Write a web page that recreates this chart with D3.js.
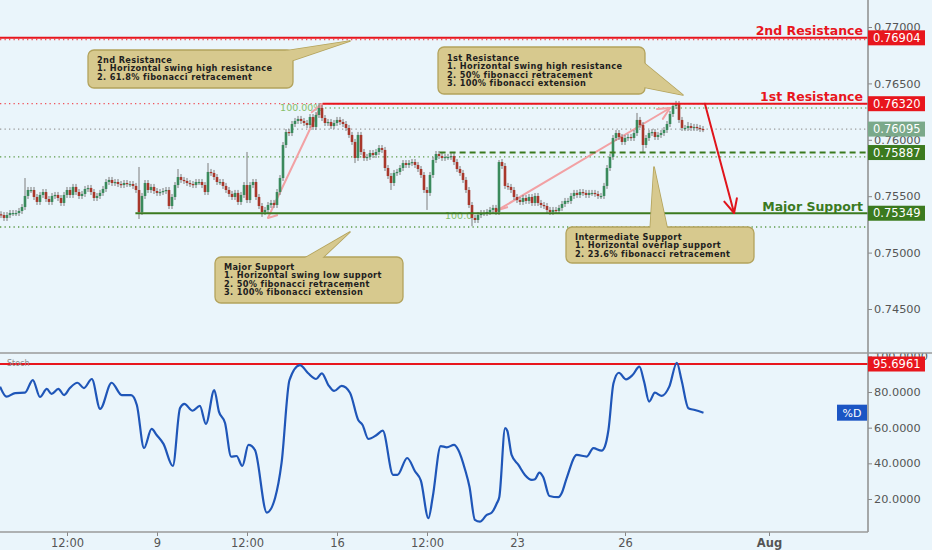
<!DOCTYPE html>
<html><head><meta charset="utf-8">
<script src="https://cdn.jsdelivr.net/npm/d3@7"></script>
<style>html,body{margin:0;padding:0;background:#eaf5fb;} svg{display:block}</style>
</head><body><svg id="c" width="932" height="550"></svg>
<script>
// ---------------- DATA ----------------
const closes = [
0.75333,0.75307,0.75333,0.75351,0.75351,0.75351,0.75369,0.75404,0.75502,0.75555,
0.75555,0.75493,0.75449,0.75511,0.75537,0.75475,0.75449,0.75502,0.75511,0.75484,
0.75440,0.75511,0.75555,0.75511,0.75582,0.75537,0.75502,0.75520,0.75564,0.75573,
0.75537,0.75484,0.75502,0.75529,0.75564,0.75626,0.75644,0.75617,0.75626,0.75608,
0.75599,0.75617,0.75608,0.75608,0.75591,0.75555,0.75360,0.75502,0.75617,0.75555,
0.75582,0.75546,0.75529,0.75537,0.75546,0.75555,0.75413,0.75493,0.75599,0.75670,
0.75644,0.75635,0.75617,0.75608,0.75599,0.75626,0.75626,0.75599,0.75537,0.75715,
0.75706,0.75670,0.75626,0.75626,0.75591,0.75555,0.75520,0.75493,0.75529,0.75449,
0.75511,0.75599,0.75466,0.75599,0.75626,0.75493,0.75413,0.75360,0.75378,0.75422,
0.75440,0.75422,0.75537,0.75661,0.75954,0.76069,0.76060,0.76140,0.76167,0.76185,
0.76167,0.76149,0.76131,0.76202,0.76114,0.76220,0.76282,0.76193,0.76149,0.76158,
0.76122,0.76149,0.76176,0.76158,0.76140,0.76105,0.76043,0.75981,0.75839,0.76043,
0.75892,0.75839,0.75848,0.75883,0.75865,0.75892,0.75927,0.75910,0.75750,0.75679,
0.75617,0.75706,0.75715,0.75750,0.75794,0.75777,0.75794,0.75803,0.75777,0.75741,
0.75688,0.75555,0.75529,0.75688,0.75821,0.75874,0.75856,0.75839,0.75848,0.75848,
0.75856,0.75803,0.75741,0.75706,0.75644,0.75555,0.75422,0.75307,0.75289,0.75333,
0.75351,0.75351,0.75360,0.75378,0.75396,0.75360,0.75803,0.75768,0.75591,0.75582,
0.75555,0.75493,0.75466,0.75449,0.75484,0.75458,0.75493,0.75440,0.75502,0.75440,
0.75422,0.75413,0.75378,0.75360,0.75378,0.75369,0.75396,0.75431,0.75458,0.75458,
0.75502,0.75529,0.75511,0.75537,0.75529,0.75511,0.75529,0.75529,0.75520,0.75502,
0.75502,0.75591,0.75750,0.75848,0.76016,0.76060,0.76025,0.75981,0.76016,0.76025,
0.76016,0.76060,0.76176,0.76131,0.75954,0.76016,0.76060,0.76069,0.76025,0.76043,
0.76060,0.76087,0.76140,0.76229,0.76300,0.76317,0.76176,0.76105,0.76105,0.76122,
0.76105,0.76114,0.76105,0.76096,0.76095];
const firstOpen = 0.75340;
const barStartHour = -104;   // hours relative to Jul 9 00:00 (trading time)
const barHours = 2;
const wickIdx  = [8,46,59,69,82,87,106,118,130,142,157,166,212,214,225,229];
const wickHigh = [0.75661,0.75759,0.75741,0.75794,0.75892,null,0.76326,null,null,null,null,0.75821,0.76238,null,0.76345,0.76158];
const wickLow  = [null,0.75298,null,null,null,0.75316,null,0.75794,0.75555,0.75378,0.75234,null,null,0.75883,null,null];

const stochT = [-4.36,-4.18,-3.94,-3.67,-3.45,-3.25,-3.06,-2.93,-2.74,-2.58,-2.42,-2.21,-2.03,-1.81,-1.58,-1.26,-0.98,-0.72,-0.56,-0.36,
-0.15,-0.01,0.18,0.44,0.64,0.76,0.99,1.19,1.36,1.59,1.72,1.89,2.06,2.21,2.37,2.54,2.72,3.05,3.28,3.46,
3.68,3.97,4.20,4.42,4.58,4.76,4.92,5.13,5.36,5.59,5.71,5.87,6.10,6.27,6.56,6.68,6.95,7.17,7.33,7.54,
7.66,7.88,8.05,8.25,8.37,8.56,8.68,8.83,8.97,9.16,9.30,9.44,9.51,9.67,9.73,9.85,10.04,10.22,10.41,10.50,
10.62,10.73,10.90,11.15,11.24,11.38,11.66,11.94,12.12,12.35,12.44,12.54,12.68,12.83,13.03,13.21,13.40,13.53,13.67,13.83,
14.02,14.23,14.44,14.57,14.76,14.94,15.18];
const stochV = [83.0,77.4,79.4,79.6,86.7,77.2,81.7,78.9,81.7,78.3,82.2,85.2,82.2,87.3,70.5,85.2,78.3,78.3,72.7,48.6,
59.3,55.9,50.9,38.5,71.0,73.3,69.5,72.2,62.1,81.1,69.0,62.6,43.8,44.1,38.5,50.3,47.5,12.4,20.6,40.2,
86.7,95.1,90.5,87.3,90.5,83.9,80.6,83.4,79.6,64.3,61.5,53.7,55.9,58.3,33.5,33.5,43.0,35.4,30.3,9.2,
21.3,49.7,49.0,50.3,47.5,36.3,26.9,8.3,7.3,11.1,12.4,17.6,21.3,59.7,58.3,44.7,39.1,33.5,30.7,31.1,
34.8,32.2,21.7,21.0,23.2,31.7,44.7,43.8,48.5,47.1,49.4,58.7,84.9,90.8,87.1,89.5,94.2,85.8,74.6,79.6,
77.8,83.0,96.4,86.7,70.9,69.9,68.4];

const priceTicks = [0.745,0.750,0.755,0.760,0.765,0.770];
const stochTicks = [20,40,60,80,100];
const timeTicks  = [-2.5,0,2.5,5,7.5,10,13,17];
const timeLabels = ["12:00","9","12:00","16","12:00","23","26","Aug"];

const keyNames  = ["2nd Resistance","1st Resistance","Major Support"];
const keyLevels = [0.76904,0.76320,0.75349];
const keyStartT = [null,4.6,-0.6];
const interLevel = 0.75887, interStartT = 7.85;
const lastPrice = 0.76095;
const guideLevels = [0.76889,0.76320,0.76282,0.76095,0.75848,0.75227];
const guideStartT = [null,null,4.67,null,null,null];
const stochLevel = 95.6961;
const stochLastLabel = "%D";
const fibText = ["100.00%","100.0"], fibT = [3.42,8.0], fibP = [0.76282,0.75325];
const fibArrowFrom = [[3.08,0.75307],[9.47,0.75378]];
const fibArrowTo   = [[4.58,0.76317],[14.25,0.76282]];
const forecastFrom = [15.22,0.76320], forecastTo = [16.03,0.75351];

// ---------------- STYLE / LAYOUT ----------------
const W=932,H=550, R=868, mainBot=353, stBot=532;
const BG="#eaf5fb", RED="#e8161d", GREEN="#3b7a1f", GREY="#555";
const FONT="DejaVu Sans";
const x  = d3.scaleLinear().domain([0,5]).range([157,337]);
const y  = d3.scaleLinear().domain([0.745,0.770]).range([309,27]);
const ys = d3.scaleLinear().domain([20,80]).range([499,392]);

const svg = d3.select("#c");
svg.append("rect").attr("width",W).attr("height",H).attr("fill",BG);
const defs = svg.append("defs");
defs.append("clipPath").attr("id","cm").append("rect").attr("x",0).attr("y",0).attr("width",R).attr("height",mainBot);
defs.append("clipPath").attr("id","cs").append("rect").attr("x",0).attr("y",mainBot).attr("width",R).attr("height",stBot-mainBot);

const gm = svg.append("g").attr("clip-path","url(#cm)");

// guide dotted lines
const guideColor = ["#f0535a","#f0535a","#7fb56f","#9a9a9a","#5e9b4a","#5e9b4a"];
guideLevels.forEach((p,i)=>{
  gm.append("line").attr("x1", guideStartT[i]==null?0:x(guideStartT[i])).attr("x2",R)
    .attr("y1",y(p)).attr("y2",y(p)).attr("stroke",guideColor[i]).attr("stroke-width",1.3)
    .attr("stroke-dasharray","1.3,3.2");
});

// fib labels
fibText.forEach((t,i)=>{
  gm.append("text").attr("x",x(fibT[i])).attr("y",y(fibP[i])).attr("dy","0.35em")
    .attr("font-family",FONT).attr("font-size",9.5).attr("fill","#86c06a").text(t);
});

// arrows helper
function arrow(g, x1,y1,x2,y2,color,w,len,head){
  g.append("line").attr("x1",x1).attr("y1",y1).attr("x2",x2).attr("y2",y2)
   .attr("stroke",color).attr("stroke-width",w).attr("stroke-linecap","round");
  if(!head) return;
  const a=Math.atan2(y1-y2,x1-x2);
  [-0.45,0.45].forEach(d=>{
    g.append("line").attr("x1",x2).attr("y1",y2)
     .attr("x2",x2+len*Math.cos(a+d)).attr("y2",y2+len*Math.sin(a+d))
     .attr("stroke",color).attr("stroke-width",w).attr("stroke-linecap","round");
  });
}
const PINK="#f2a1a4";
fibArrowFrom.forEach((f,i)=>{
  const t=fibArrowTo[i];
  arrow(gm, x(f[0]),y(f[1]),x(t[0]),y(t[1]),PINK,2,13,true);
  gm.append("line").attr("x1",x(f[0])).attr("y1",y(f[1])).attr("x2",x(f[0])+10).attr("y2",y(f[1])-3)
    .attr("stroke",PINK).attr("stroke-width",2);
});

// candles
const wickMap = {};
wickIdx.forEach((k,i)=>wickMap[k]={h:wickHigh[i],l:wickLow[i]});
const gc = gm.append("g");
closes.forEach((c,k)=>{
  const o = k===0?firstOpen:closes[k-1];
  const t = (barStartHour + barHours*k)/24;
  const cx = x(t);
  const top = y(Math.max(o,c)), bot = y(Math.min(o,c));
  const wk = wickMap[k]||{};
  const wt = wk.h!=null?y(wk.h):top-3, wb = wk.l!=null?y(wk.l):bot+3;
  gc.append("line").attr("x1",cx).attr("x2",cx).attr("y1",wt).attr("y2",wb)
    .attr("stroke","#7d7d7d").attr("stroke-width",1);
  gc.append("rect").attr("x",cx-1.3).attr("width",2.6).attr("y",top).attr("height",Math.max(1.2,bot-top))
    .attr("fill", c>=o?"#3a8a5c":"#a8372b");
});

// key levels
keyLevels.forEach((p,i)=>{
  const col = i<2?RED:GREEN;
  gm.append("line").attr("x1",keyStartT[i]==null?0:x(keyStartT[i])).attr("x2",R)
    .attr("y1",y(p)).attr("y2",y(p)).attr("stroke",col).attr("stroke-width",2);
  gm.append("text").attr("x",R-5).attr("y",y(p)-2.5).attr("text-anchor","end")
    .attr("font-family",FONT).attr("font-weight","bold").attr("font-size",12.5)
    .attr("fill",col).text(keyNames[i]);
});
gm.append("line").attr("x1",x(interStartT)).attr("x2",R).attr("y1",y(interLevel)).attr("y2",y(interLevel))
  .attr("stroke",GREEN).attr("stroke-width",2).attr("stroke-dasharray","6,4");

// forecast arrow
arrow(gm, x(forecastFrom[0]),y(forecastFrom[1]),x(forecastTo[0]),y(forecastTo[1]),"#e0141b",2,15,true);

// callouts
const FILL="#d7c98e", STROKE="#b3a35c";
function callout(box, tail, lines, base0, lh){
  const g = svg.append("g");
  const pts = tail.map(p=>p.join(",")).join(" ");
  g.append("polygon").attr("points",pts).attr("fill",FILL).attr("stroke",STROKE).attr("stroke-width",1.6).attr("stroke-linejoin","round");
  g.append("rect").attr("x",box[0]).attr("y",box[1]).attr("width",box[2]).attr("height",box[3]).attr("rx",6)
    .attr("fill",FILL).attr("stroke",STROKE).attr("stroke-width",1.3);
  g.append("polygon").attr("points",pts).attr("fill",FILL);
  lines.forEach((l,i)=>{
    g.append("text").attr("x",box[0]+9).attr("y",base0+i*lh).attr("font-family",FONT)
     .attr("font-weight","bold").attr("font-size",8.2).attr("letter-spacing",0.35)
     .attr("fill","#1e1e1e").text(l);
  });
}
callout([88,50,205,38],[[272,53],[350,41],[291,61]],
  ["2nd Resistance","1. Horizontal swing high resistance","2. 61.8% fibonacci retracement"],62.5,8.6);
callout([438,47,207,47],[[638,58],[683,95],[638,86]],
  ["1st Resistance","1. Horizontal swing high resistance","2. 50% fibonacci retracement","3. 100% fibonacci extension"],60.5,8.6);
callout([215,257,188,46],[[298,262],[350,232],[318,262]],
  ["Major Support","1. Horizontal swing low support","2. 50% fibonacci retracement","3. 100% fibonacci extension"],269.5,8.6);
callout([566,227,188,36],[[650,232],[654,167],[668,232]],
  ["Intermediate Support","1. Horizontal overlap support","2. 23.6% fibonacci retracement"],239.5,8.6);

// ---------------- STOCH PANEL ----------------
const gs = svg.append("g").attr("clip-path","url(#cs)");
gs.append("line").attr("x1",0).attr("x2",R).attr("y1",ys(stochLevel)).attr("y2",ys(stochLevel))
  .attr("stroke",RED).attr("stroke-width",2);
const sdata = stochT.map((t,i)=>({t, v:stochV[i]}));
gs.append("path").datum(sdata).attr("fill","none").attr("stroke","#1f56b8").attr("stroke-width",2.2)
  .attr("stroke-linejoin","round")
  .attr("d", d3.line().x(d=>x(d.t)).y(d=>ys(d.v)).curve(d3.curveMonotoneX));
svg.append("text").attr("x",7).attr("y",366).attr("font-family",FONT).attr("font-size",8)
  .attr("fill","#8a8a8a").text("Stoch");

// ---------------- AXES ----------------
function styleAxis(g){
  g.select(".domain").remove();
  g.selectAll(".tick line").attr("stroke","#888");
  g.selectAll(".tick text").attr("font-family",FONT).attr("font-size",11.3).attr("fill",GREY);
}
const ay = svg.append("g").attr("transform",`translate(${R},0)`)
  .call(d3.axisRight(y).tickValues(priceTicks).tickFormat(d3.format(".5f")).tickSize(4).tickPadding(2));
styleAxis(ay);
const as = svg.append("g").attr("transform",`translate(${R},0)`)
  .call(d3.axisRight(ys).tickValues(stochTicks).tickFormat(d3.format(".4f")).tickSize(4).tickPadding(2));
styleAxis(as);
// hide top part of the 100 label above the panel divider
svg.append("rect").attr("x",R+1).attr("y",340).attr("width",W-R).attr("height",mainBot-340).attr("fill",BG);
const ax = svg.append("g").attr("transform",`translate(0,${stBot})`)
  .call(d3.axisBottom(x).tickValues(timeTicks).tickFormat((d,i)=>timeLabels[i]).tickSize(4).tickPadding(3));
styleAxis(ax);
ax.selectAll(".tick text").attr("font-size",11.5).attr("font-weight",(d,i)=>timeLabels[i]==="Aug"?"bold":"normal");

svg.append("line").attr("x1",R).attr("x2",R).attr("y1",0).attr("y2",stBot).attr("stroke","#8c8c8c").attr("stroke-width",1.5);
svg.append("line").attr("x1",0).attr("x2",W).attr("y1",mainBot).attr("y2",mainBot).attr("stroke","#9a9a9a").attr("stroke-width",1.5);
svg.append("line").attr("x1",0).attr("x2",R).attr("y1",stBot).attr("y2",stBot).attr("stroke","#9a9a9a").attr("stroke-width",1.5);

// price tags
function tag(yp, txt, fill){
  svg.append("rect").attr("x",R).attr("y",yp-7.5).attr("width",57).attr("height",15).attr("fill",fill);
  svg.append("text").attr("x",R+5).attr("y",yp).attr("dy","0.36em").attr("font-family",FONT)
    .attr("font-size",11.5).attr("fill","#fff").text(txt);
}
tag(y(keyLevels[0]), d3.format(".5f")(keyLevels[0]), RED);
tag(y(keyLevels[1]), d3.format(".5f")(keyLevels[1]), RED);
tag(y(lastPrice), d3.format(".5f")(lastPrice), "#7aa98a");
tag(y(interLevel), d3.format(".5f")(interLevel), GREEN);
tag(y(keyLevels[2]), d3.format(".5f")(keyLevels[2]), GREEN);
tag(ys(stochLevel), d3.format(".4f")(stochLevel), RED);
// %D tag
const lastV = stochV[stochV.length-1];
svg.append("rect").attr("x",R-31).attr("y",ys(lastV)-8).attr("width",30).attr("height",16).attr("fill","#1b55c4");
svg.append("text").attr("x",R-16).attr("y",ys(lastV)).attr("dy","0.36em").attr("text-anchor","middle")
  .attr("font-family",FONT).attr("font-size",11).attr("fill","#fff").text(stochLastLabel);
</script></body></html>
